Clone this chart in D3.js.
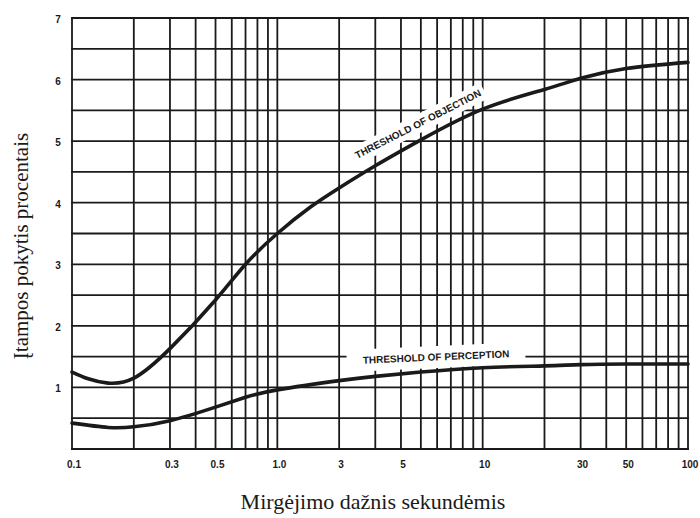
<!DOCTYPE html>
<html>
<head>
<meta charset="utf-8">
<script src="https://cdn.jsdelivr.net/npm/d3@7/dist/d3.min.js"></script>
<style>
  html, body { margin: 0; padding: 0; background: #fff; }
  svg { display: block; }
</style>
</head>
<body>
<svg id="chart" width="700" height="518"></svg>
<script>
// Flicker frequency (per second) and voltage change thresholds (%)
const perceptionFreq = [0.1, 0.15, 0.2, 0.3, 0.5, 0.7, 1, 2, 3, 5, 10, 20, 30, 50, 100];
const perceptionVals = [0.42, 0.35, 0.36, 0.46, 0.68, 0.84, 0.96, 1.11, 1.18, 1.25, 1.32, 1.35, 1.37, 1.38, 1.38];

const objectionFreq = [0.1, 0.12, 0.15, 0.2, 0.3, 0.5, 0.7, 1, 1.45, 2, 3, 5, 10, 20, 30, 50, 100];
const objectionVals = [1.25, 1.14, 1.07, 1.15, 1.63, 2.42, 3.0, 3.5, 3.93, 4.24, 4.6, 5.02, 5.52, 5.84, 6.02, 6.18, 6.28];

// Bottom axis labels and where they sit on the frequency scale
const xTickValues = [0.1, 0.3, 0.5, 1, 2, 4, 10, 30, 50, 100];
const xTickLabels = ["0.1", "0.3", "0.5", "1.0", "3", "5", "10", "30", "50", "100"];
const yTickValues = [1, 2, 3, 4, 5, 6, 7];

const xTitle = "Mirgėjimo dažnis sekundėmis";
const yTitle = "Įtampos pokytis procentais";
const objectionLabel = "THRESHOLD OF OBJECTION";
const perceptionLabel = "THRESHOLD OF PERCEPTION";

const svg = d3.select("#chart");
const ink = "#1a1a1a";

const x = d3.scaleLog().domain([0.1, 100]).range([72, 688]);
const y = d3.scaleLinear().domain([0, 7]).range([449, 18]);

// Log grid: 1..9 in every decade
const vGrid = [];
[0.1, 1, 10].forEach(d => { for (let k = 1; k <= 9; k++) vGrid.push(+(k * d).toPrecision(3)); });
vGrid.push(100);
const hGrid = d3.range(0, 7.01, 0.5);

const grid = svg.append("g");
grid.selectAll("line.v").data(vGrid).join("line")
  .attr("x1", d => x(d)).attr("x2", d => x(d))
  .attr("y1", y(0)).attr("y2", y(7))
  .attr("stroke", ink).attr("stroke-width", 1.8);
grid.selectAll("line.h").data(hGrid).join("line")
  .attr("x1", x(0.1) - 1).attr("x2", x(100) + 1)
  .attr("y1", d => y(d)).attr("y2", d => y(d))
  .attr("stroke", ink).attr("stroke-width", 1.8);

// Axis tick labels
const tickFont = "bold 10px 'Liberation Sans', Arial, sans-serif";
svg.append("g").selectAll("text").data(xTickValues).join("text")
  .attr("x", d => x(d) + 2).attr("y", y(0) + 19)
  .attr("text-anchor", "middle")
  .style("font", tickFont).attr("fill", ink)
  .text((d, i) => xTickLabels[i]);
svg.append("g").selectAll("text").data(yTickValues).join("text")
  .attr("x", 58).attr("y", d => y(d) + 5)
  .attr("text-anchor", "middle")
  .style("font", tickFont).attr("fill", ink)
  .text(d => d);

// Curve labels with white backing that breaks the grid
function curveLabel(text, cx, cy, angle, padX, padY) {
  const g = svg.append("g").attr("transform", `translate(${cx},${cy}) rotate(${angle})`);
  const rect = g.append("rect").attr("fill", "#fff");
  const t = g.append("text")
    .attr("text-anchor", "middle").attr("dy", "0.35em")
    .style("font", "bold 10px 'Liberation Sans', Arial, sans-serif")
    .attr("fill", ink).text(text);
  const w = t.node().getComputedTextLength();
  rect.attr("x", -w / 2 - padX).attr("y", -6 - padY)
    .attr("width", w + 2 * padX).attr("height", 12 + 2 * padY);
}
curveLabel(objectionLabel, 418, 124, -27, 4, 3);
curveLabel(perceptionLabel, 436, 357, -2.5, 16, 5);

// Threshold curves
const line = d3.line()
  .x(d => x(d[0])).y(d => y(d[1]))
  .curve(d3.curveNatural);
svg.append("path")
  .datum(d3.zip(objectionFreq, objectionVals))
  .attr("d", line).attr("fill", "none")
  .attr("stroke", ink).attr("stroke-width", 3.6).attr("stroke-linecap", "round");
svg.append("path")
  .datum(d3.zip(perceptionFreq, perceptionVals))
  .attr("d", line).attr("fill", "none")
  .attr("stroke", ink).attr("stroke-width", 3.6).attr("stroke-linecap", "round");

// Axis titles
svg.append("text")
  .attr("x", 373).attr("y", 509)
  .attr("text-anchor", "middle")
  .style("font", "22px 'Liberation Serif', 'Times New Roman', serif")
  .attr("fill", ink).text(xTitle);
svg.append("text")
  .attr("transform", "translate(28,246) rotate(-90)")
  .attr("text-anchor", "middle")
  .style("font", "21px 'Liberation Serif', 'Times New Roman', serif")
  .attr("fill", ink).text(yTitle);
</script>
</body>
</html>
